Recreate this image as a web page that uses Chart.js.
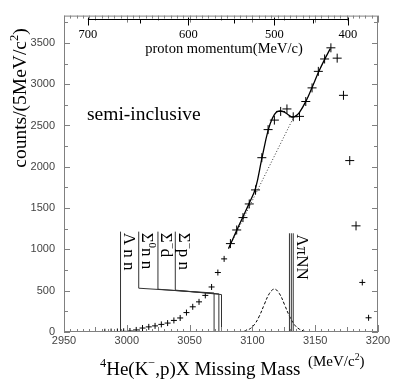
<!DOCTYPE html>
<html>
<head>
<meta charset="utf-8">
<script src="https://cdn.jsdelivr.net/npm/chart.js@4.4.1/dist/chart.umd.min.js"></script>
<style>
  html, body { margin: 0; padding: 0; background: #fff; }
  canvas { display: block; }
</style>
</head>
<body>
<canvas id="chart" width="398" height="382"></canvas>
<script>
// ---- data (5 MeV bins) ----
const massBins = [2982.5, 2987.5, 2992.5, 2997.5, 3002.5, 3007.5, 3012.5, 3017.5, 3022.5, 3027.5,
                  3032.5, 3037.5, 3042.5, 3047.5, 3052.5, 3057.5, 3062.5, 3067.5, 3072.5, 3077.5,
                  3082.5, 3087.5, 3092.5, 3097.5, 3102.5, 3107.5, 3112.5, 3117.5, 3122.5, 3127.5,
                  3132.5, 3137.5, 3142.5, 3147.5, 3152.5, 3157.5, 3162.5, 3167.5, 3172.5, 3177.5,
                  3182.5, 3187.5, 3192.5];
const counts = [3, 5, 6, 8, 12, 25, 48, 62, 74, 92,
                108, 140, 170, 235, 305, 365, 443, 545, 720, 885,
                1070, 1235, 1385, 1550, 1720, 2110, 2450, 2565, 2670, 2700,
                2605, 2610, 2790, 2955, 3155, 3305, 3440, 3315, 2865, 2075,
                1285, 600, 172];

// fitted curve (solid)
const fitMass = [3081, 3087.5, 3092.5, 3097.5, 3102.5, 3107.5, 3112.5, 3116, 3119, 3122,
                 3125, 3128, 3131, 3134, 3137.5, 3142.5, 3147.5, 3152.5, 3157.5, 3162];
const fitCounts = [1010, 1230, 1395, 1560, 1740, 2100, 2440, 2590, 2660, 2675,
                   2665, 2635, 2605, 2610, 2660, 2790, 2960, 3140, 3300, 3430];

// background under the bump (dotted)
const bgMass = [3081, 3133];
const bgCounts = [1010, 2605];

// expected peak shape (dashed)
const peakMass = [3093.5, 3097.5, 3101.5, 3105.5, 3109.5, 3113.5, 3117.5, 3121.5, 3125.5, 3129.5, 3133.5, 3137.5, 3141.5];
const peakCounts = [10, 33, 88, 192, 334, 465, 520, 465, 334, 192, 88, 33, 10];

// threshold markers
const lnnMass = [2995, 2995];
const lnnCounts = [0, 1215];
const s0nnMass = [3069.5, 3069.5, 3009.5, 3009.5];
const s0nnCounts = [0, 472, 530, 1215];
const smdMass = [3073.3, 3073.3, 3024.8, 3024.8];
const smdCounts = [0, 462, 518, 1215];
const smpnMass = [3075.4, 3075.4, 3038.6, 3038.6];
const smpnCounts = [0, 453, 507, 1215];
const lpnnMass = [3129.5, 3131, 3132.5];
const lpnnTop = 1195;

// axes
const xTicks = [2950, 3000, 3050, 3100, 3150, 3200];
const yTicks = [0, 500, 1000, 1500, 2000, 2500, 3000, 3500];
const momentumTicks = [700, 650, 600, 550, 500, 450, 400];
const momentumMass = [2969, 3010.5, 3049, 3085, 3117.5, 3148.5, 3176];

const SERIF = '"Liberation Serif", "DejaVu Serif", serif';

function pts(xs, ys) {
    return xs.map((x, i) => ({ x: x, y: ys[i] }));
}

function lineSet(data, extra) {
    return Object.assign({
        data: data,
        showLine: true,
        pointRadius: 0,
        borderColor: '#333',
        borderWidth: 1,
        tension: 0,
        fill: false
    }, extra || {});
}

const datasets = [
    lineSet(pts(lnnMass, lnnCounts)),
    lineSet(pts(s0nnMass, s0nnCounts)),
    lineSet(pts(smdMass, smdCounts)),
    lineSet(pts(smpnMass, smpnCounts))
];
lpnnMass.forEach(m => datasets.push(lineSet(pts([m, m], [0, lpnnTop]))));
datasets.push(lineSet(pts(peakMass, peakCounts), { borderColor: '#000', borderDash: [3, 2], tension: 0.4 }));
datasets.push(lineSet(pts(bgMass, bgCounts), { borderColor: '#000', borderWidth: 0.8, borderDash: [1, 2] }));
datasets.push(lineSet(pts(fitMass, fitCounts), { borderColor: '#000', borderWidth: 1.3, tension: 0.4 }));
datasets.push({
    data: pts(massBins, counts),
    showLine: false,
    pointStyle: 'cross',
    pointRadius: ctx => (ctx.raw && ctx.raw.y > 1000 ? 4.5 : 3),
    pointBorderColor: '#000',
    pointBorderWidth: 1
});

// draw text made of normal and superscript pieces
function runsWidth(ctx, runs, size) {
    let w = 0;
    runs.forEach(r => {
        ctx.font = (r.sup ? size * 0.65 : size) + 'px ' + SERIF;
        w += ctx.measureText(r.t).width;
    });
    return w;
}

function drawRuns(ctx, x, y, runs, size) {
    runs.forEach(r => {
        const s = r.sup ? size * 0.65 : size;
        ctx.font = s + 'px ' + SERIF;
        ctx.fillText(r.t, x, r.sup ? y - size * 0.42 : y);
        x += ctx.measureText(r.t).width;
    });
}

const decorPlugin = {
    id: 'decor',
    beforeDraw(chart) {
        const ctx = chart.ctx;
        ctx.save();
        ctx.fillStyle = '#fff';
        ctx.fillRect(0, 0, chart.width, chart.height);
        ctx.restore();
    },
    afterDraw(chart) {
        const ctx = chart.ctx;
        const { left, right, top, bottom } = chart.chartArea;
        const xs = chart.scales.x;
        const ys = chart.scales.y;

        ctx.save();
        // frame + tick marks
        ctx.strokeStyle = '#808080';
        ctx.lineWidth = 1;
        ctx.strokeRect(left + 0.5, top + 0.5, right - left - 1, bottom - top - 1);
        ctx.beginPath();
        for (let m = 2950; m <= 3200; m += 5) {
            const px = Math.round(xs.getPixelForValue(m)) + 0.5;
            const len = m % 50 === 0 ? 7 : (m % 25 === 0 ? 5 : 3);
            ctx.moveTo(px, bottom);
            ctx.lineTo(px, bottom - len);
            ctx.moveTo(px, top);
            ctx.lineTo(px, top + len);
        }
        for (let c = 0; c <= 3750; c += 250) {
            const py = Math.round(ys.getPixelForValue(c)) + 0.5;
            const len = c % 500 === 0 ? 6 : 4;
            ctx.moveTo(left, py);
            ctx.lineTo(left + len, py);
            ctx.moveTo(right, py);
            ctx.lineTo(right - len, py);
        }
        ctx.stroke();

        // proton momentum scale
        const axisY = 19.5;
        ctx.strokeStyle = '#000';
        ctx.beginPath();
        ctx.moveTo(xs.getPixelForValue(momentumMass[0]), axisY);
        ctx.lineTo(xs.getPixelForValue(momentumMass[momentumMass.length - 1]), axisY);
        momentumMass.forEach((m, i) => {
            const px = Math.round(xs.getPixelForValue(m)) + 0.5;
            const major = momentumTicks[i] % 100 === 0;
            ctx.moveTo(px, major ? axisY - 2 : axisY);
            ctx.lineTo(px, major ? axisY + 6 : axisY + 4);
        });
        ctx.stroke();

        ctx.fillStyle = '#000';
        ctx.textAlign = 'center';
        ctx.textBaseline = 'alphabetic';
        ctx.font = '12.5px ' + SERIF;
        momentumMass.forEach((m, i) => {
            if (momentumTicks[i] % 100 === 0) {
                ctx.fillText(String(momentumTicks[i]), xs.getPixelForValue(m), 38);
            }
        });
        ctx.font = '14.5px ' + SERIF;
        ctx.fillText('proton momentum(MeV/c)', 224, 53);

        // annotation
        ctx.textAlign = 'left';
        ctx.font = '19.5px ' + SERIF;
        ctx.fillText('semi-inclusive', 87, 120);

        // threshold labels, written downward
        const labels = [
            { runs: [{ t: 'Λ n n' }], m: lnnMass[1], c: lnnCounts[1] },
            { runs: [{ t: 'Σ' }, { t: '0', sup: true }, { t: 'n n' }], m: s0nnMass[3], c: s0nnCounts[3] },
            { runs: [{ t: 'Σ' }, { t: '−', sup: true }, { t: 'd' }], m: smdMass[3], c: smdCounts[3] },
            { runs: [{ t: 'Σ' }, { t: '−', sup: true }, { t: 'p n' }], m: smpnMass[3], c: smpnCounts[3] },
            { runs: [{ t: 'ΛπNN' }], m: lpnnMass[2], c: lpnnTop }
        ];
        labels.forEach(l => {
            ctx.save();
            ctx.translate(xs.getPixelForValue(l.m) + 3.5, ys.getPixelForValue(l.c) + 1);
            ctx.rotate(Math.PI / 2);
            drawRuns(ctx, 0, 0, l.runs, 17);
            ctx.restore();
        });

        // axis titles
        const xTitle = [{ t: '4', sup: true }, { t: 'He(K' }, { t: '−', sup: true }, { t: ',p)X Missing Mass' }];
        drawRuns(ctx, 100, 375, xTitle, 19);
        drawRuns(ctx, 308, 366, [{ t: '(MeV/c' }, { t: '2', sup: true }, { t: ')' }], 15);

        const yTitle = [{ t: 'counts/(5MeV/c' }, { t: '2', sup: true }, { t: ')' }];
        ctx.save();
        ctx.translate(26, 98);
        ctx.rotate(-Math.PI / 2);
        const w = runsWidth(ctx, yTitle, 19.5);
        drawRuns(ctx, -w / 2, 0, yTitle, 19.5);
        ctx.restore();

        ctx.restore();
    }
};

const tickFont = { family: '"Liberation Sans", sans-serif', size: 11 };

new Chart(document.getElementById('chart'), {
    type: 'scatter',
    data: { datasets: datasets },
    options: {
        responsive: false,
        animation: false,
        devicePixelRatio: 1,
        layout: { padding: { left: 0, top: 5, right: 20, bottom: 0 } },
        plugins: { legend: { display: false }, tooltip: { enabled: false } },
        scales: {
            x: {
                type: 'linear',
                min: 2950,
                max: 3200,
                grid: { display: false, drawTicks: false },
                border: { display: false },
                afterBuildTicks: s => { s.ticks = xTicks.map(v => ({ value: v })); },
                afterFit: s => { s.height = 50; },
                ticks: {
                    padding: 2,
                    maxRotation: 0,
                    color: '#444',
                    font: tickFont,
                    callback: v => String(v)
                }
            },
            y: {
                type: 'linear',
                min: 0,
                max: 3830,
                grid: { display: false, drawTicks: false },
                border: { display: false },
                afterBuildTicks: s => { s.ticks = yTicks.map(v => ({ value: v })); },
                afterFit: s => { s.width = 64; },
                ticks: {
                    padding: 9,
                    color: '#444',
                    font: tickFont,
                    callback: v => String(v)
                }
            }
        }
    },
    plugins: [decorPlugin]
});
</script>
</body>
</html>
